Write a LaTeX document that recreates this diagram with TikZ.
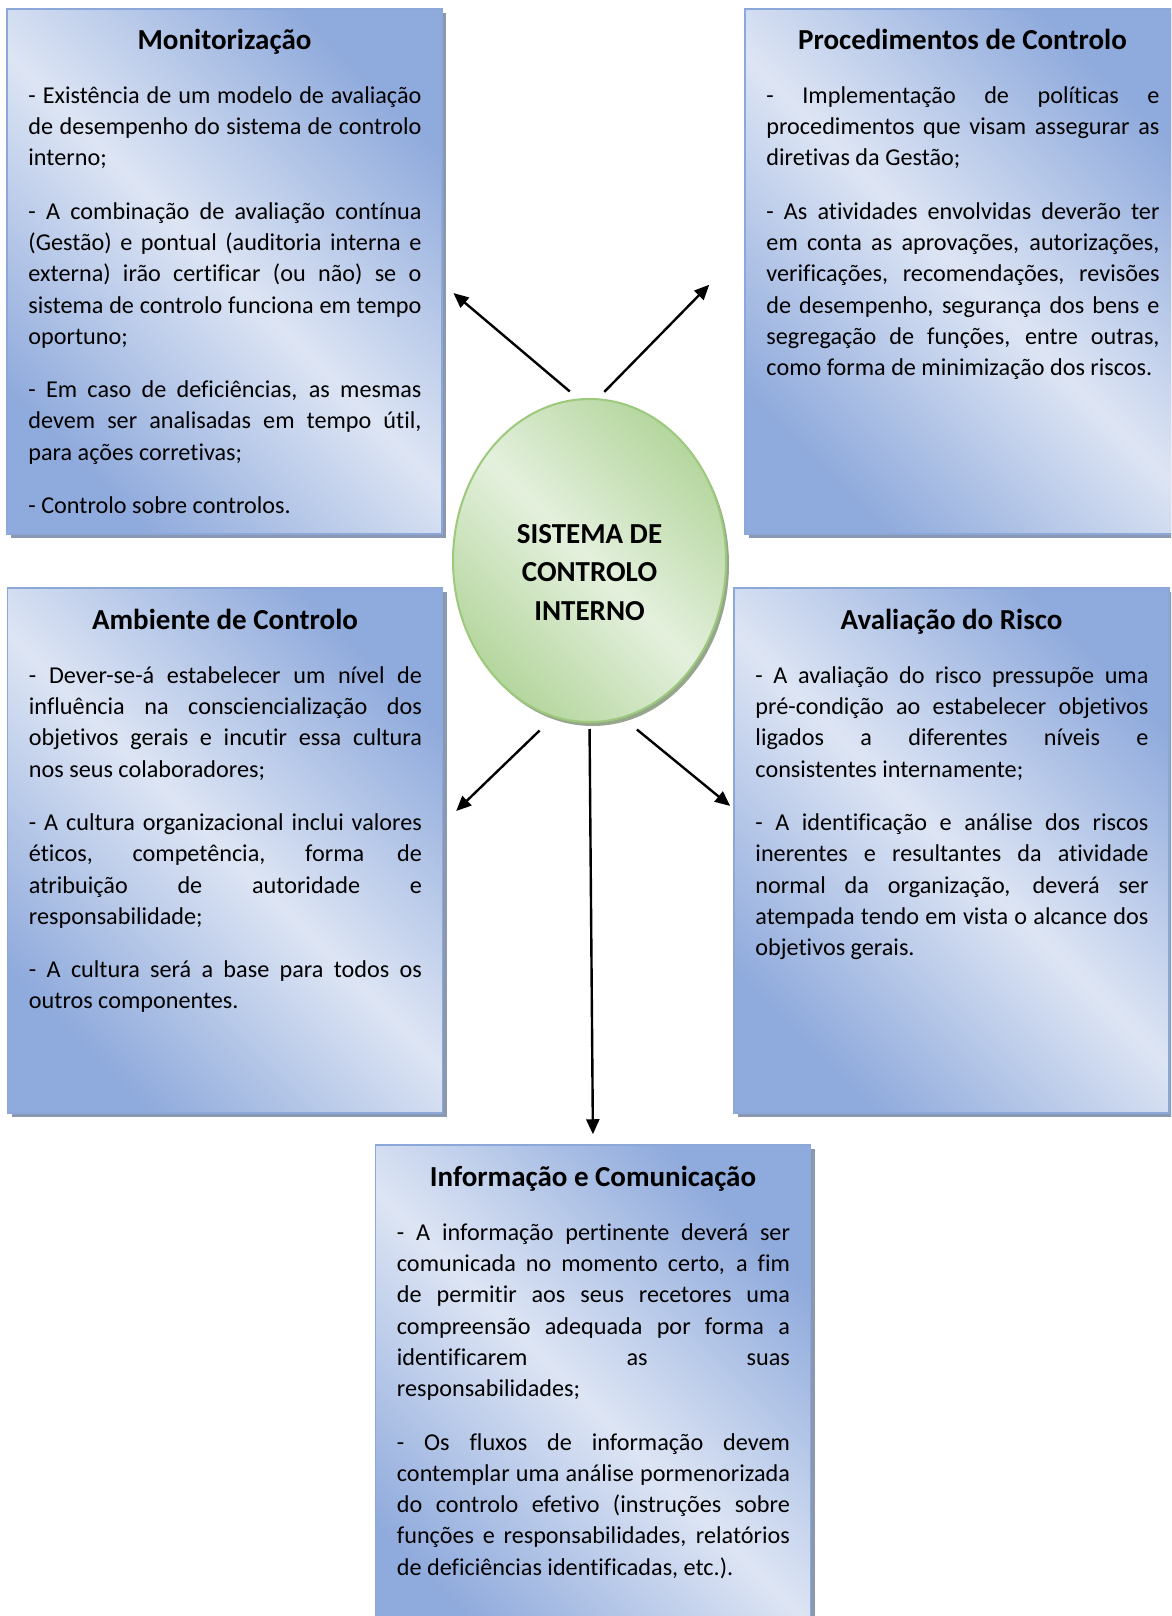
\documentclass[tikz,border=0pt]{standalone}
\usepackage{fontspec}
\setmainfont{Carlito}[Ligatures=NoCommon]
\usepackage{xcolor}
\usetikzlibrary{positioning, arrows.meta, shapes.geometric, shadows}

\definecolor{boxlight}{RGB}{221,229,244}
\definecolor{boxdark}{RGB}{143,170,220}
\definecolor{boxline}{RGB}{140,168,216}
\definecolor{boxshade}{RGB}{138,152,178}
\definecolor{corelight}{RGB}{228,240,221}
\definecolor{coredark}{RGB}{181,214,158}
\definecolor{coreline}{RGB}{156,201,124}
\definecolor{coreshade}{RGB}{150,166,140}

\tikzset{
    component/.style={rectangle, draw=boxline, line width=1.5pt, minimum width=435pt, minimum height=525pt,
        top color=boxdark, bottom color=boxdark, middle color=boxlight, shading angle=-45,
        drop shadow={shadow xshift=4pt, shadow yshift=-4pt, fill=boxshade, opacity=1}},
    heading/.style={anchor=base, inner sep=0pt, font=\fontsize{29}{35}\selectfont\bfseries},
    bodytext/.style={anchor=base west, inner sep=0pt, text width=393pt, align=justify,
        font=\fontsize{24.2}{31.3}\selectfont,
        execute at begin node={\setlength{\parskip}{22pt}\tolerance=10000\hbadness=10000\hyphenpenalty=10000\exhyphenpenalty=10000}},
    core/.style={ellipse, draw=coreline, line width=2pt, minimum width=273pt, minimum height=323pt,
        top color=coredark, bottom color=coredark, middle color=corelight, shading angle=-45,
        drop shadow={shadow xshift=3pt, shadow yshift=-4pt, fill=coreshade, opacity=1}},
    coretext/.style={align=center, inner sep=0pt, font=\fontsize{29}{38.5}\selectfont\bfseries},
    arrow/.style={-{Triangle[length=15pt, width=13pt]}, line width=2.4pt}
}

\begin{document}
\begin{tikzpicture}[x=1pt, y=-1pt]
    \path[use as bounding box, fill=white] (0,0) rectangle (1171,1616);
    \clip (0,0) rectangle (1171,1616);

    % Central system
    \node[core] (core) at (589.5,560.5) {};
    \node[coretext] (core-t) at ([yshift=-12pt]core.center) {SISTEMA DE\\CONTROLO\\INTERNO};

    % Components
    \node[component] (mon) at (224.5,271.5) {};
    \node[component] (proc) at (962.5,271.5) {};
    \node[component] (amb) at (225,850.5) {};
    \node[component] (aval) at (951.5,850.5) {};
    \node[component] (info) at (593,1407.5) {};

    % Headings
    \node[heading] (mon-h) at ([yshift=-41pt]mon.north) {Monitorização};
    \node[heading] (proc-h) at ([yshift=-41pt]proc.north) {Procedimentos de Controlo};
    \node[heading] (amb-h) at ([yshift=-42pt]amb.north) {Ambiente de Controlo};
    \node[heading] (aval-h) at ([yshift=-42pt]aval.north) {Avaliação do Risco};
    \node[heading] (info-h) at ([yshift=-42pt]info.north) {Informação e Comunicação};

    % Texts
    \node[bodytext] (mon-b) at ([xshift=22pt, yshift=-95pt]mon.north west) {%
        - Existência de um modelo de avaliação\linebreak
        de desempenho do sistema de controlo\linebreak
        interno;\par
        - A combinação de avaliação contínua\linebreak
        (Gestão) e pontual (auditoria interna e\linebreak
        externa) irão certificar (ou não) se o\linebreak
        sistema de controlo funciona em tempo\linebreak
        oportuno;\par
        - Em caso de deficiências, as mesmas\linebreak
        devem ser analisadas em tempo útil,\linebreak
        para ações corretivas;\par
        - Controlo sobre controlos.};
    \node[bodytext] (proc-b) at ([xshift=22pt, yshift=-95pt]proc.north west) {%
        - Implementação de políticas e\linebreak
        procedimentos que visam assegurar as\linebreak
        diretivas da Gestão;\par
        - As atividades envolvidas deverão ter\linebreak
        em conta as aprovações, autorizações,\linebreak
        verificações, recomendações, revisões\linebreak
        de desempenho, segurança dos bens e\linebreak
        segregação de funções, entre outras,\linebreak
        como forma de minimização dos riscos.};
    \node[bodytext] (amb-b) at ([xshift=22pt, yshift=-96pt]amb.north west) {%
        - Dever-se-á estabelecer um nível de\linebreak
        influência na consciencialização dos\linebreak
        objetivos gerais e incutir essa cultura\linebreak
        nos seus colaboradores;\par
        - A cultura organizacional inclui valores\linebreak
        éticos, competência, forma de\linebreak
        atribuição de autoridade e\linebreak
        responsabilidade;\par
        - A cultura será a base para todos os\linebreak
        outros componentes.};
    \node[bodytext] (aval-b) at ([xshift=22pt, yshift=-96pt]aval.north west) {%
        - A avaliação do risco pressupõe uma\linebreak
        pré-condição ao estabelecer objetivos\linebreak
        ligados a diferentes níveis e\linebreak
        consistentes internamente;\par
        - A identificação e análise dos riscos\linebreak
        inerentes e resultantes da atividade\linebreak
        normal da organização, deverá ser\linebreak
        atempada tendo em vista o alcance dos\linebreak
        objetivos gerais.};
    \node[bodytext] (info-b) at ([xshift=22pt, yshift=-96pt]info.north west) {%
        - A informação pertinente deverá ser\linebreak
        comunicada no momento certo, a fim\linebreak
        de permitir aos seus recetores uma\linebreak
        compreensão adequada por forma a\linebreak
        identificarem as suas\linebreak
        responsabilidades;\par
        - Os fluxos de informação devem\linebreak
        contemplar uma análise pormenorizada\linebreak
        do controlo efetivo (instruções sobre\linebreak
        funções e responsabilidades, relatórios\linebreak
        de deficiências identificadas, etc.).};

    % Arrows
    \draw[arrow, shorten <=11pt, shorten >=14pt] (core.94) -- ([yshift=-12.5pt]mon.east);
    \draw[arrow, shorten <=9pt, shorten >=50pt] (core.87) -- ([yshift=22.5pt]proc.west);
    \draw[arrow, shorten <=19pt, shorten >=18pt] (core.257.5) -- ([yshift=27pt]amb.east);
    \draw[arrow, shorten <=18pt, shorten >=4pt] (core.282.6) -- ([yshift=42pt]aval.west);
    \draw[arrow, shorten <=6pt, shorten >=10pt] (core.south) -- (info.north);
\end{tikzpicture}
\end{document}
